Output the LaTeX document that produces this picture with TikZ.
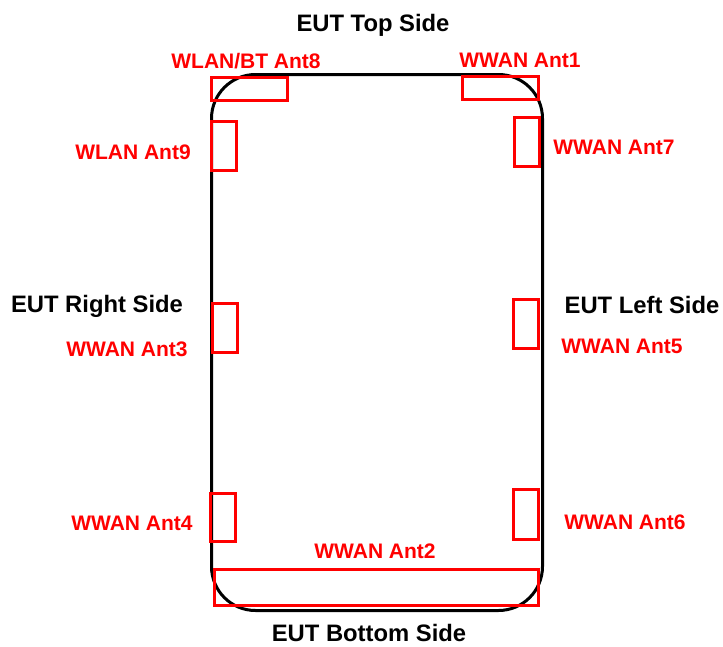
\documentclass[tikz,border=0pt]{standalone}
\usepackage{fontspec}
\setmainfont{Liberation Sans}
\usetikzlibrary{positioning}
\definecolor{AntRed}{RGB}{255,0,0}

\begin{document}
\begin{tikzpicture}[x=1pt,y=-1pt,
        eutbody/.style={draw=black,line width=3pt,rounded corners=44pt,
          minimum width=331pt,minimum height=536pt,inner sep=0pt},
        ant/.style={draw=AntRed,line width=3pt,inner sep=0pt},
        antlabel/.style={text=AntRed,font=\fontsize{21}{23}\selectfont\bfseries,inner sep=0pt},
        sidelabel/.style={text=black,font=\fontsize{23.8}{26}\selectfont\bfseries,inner sep=0pt}
      ]
        \useasboundingbox (0,0) rectangle (723,646);
        \node[eutbody] (eut) at (377,342.5) {};
        % antennas along the sides
        \node[ant,minimum width=76pt,minimum height=22.5pt] (ant8) at (249.5,89) {};
        \node[ant,minimum width=76pt,minimum height=23pt] (ant1) at (500.5,88) {};
        \node[ant,minimum width=25pt,minimum height=49pt] (ant9) at (224,146) {};
        \node[ant,minimum width=25pt,minimum height=49pt] (ant7) at (527,142) {};
        \node[ant,minimum width=25pt,minimum height=49pt] (ant3) at (224.5,328) {};
        \node[ant,minimum width=25pt,minimum height=49pt] (ant5) at (525.5,324) {};
        \node[ant,minimum width=25pt,minimum height=48pt] (ant4) at (223,517.5) {};
        \node[ant,minimum width=25pt,minimum height=50pt] (ant6) at (525.5,514.5) {};
        \node[ant,minimum width=324pt,minimum height=36pt] (ant2) at (376.5,587.5) {};
        % side names
        \node[sidelabel] (top) at (373,25) {EUT Top Side};
        \node[sidelabel] (bottom) at (369,633) {EUT Bottom Side};
        \node[sidelabel] (right) at (97,306) {EUT Right Side};
        \node[sidelabel] (left) at (642,305) {EUT Left Side};
        % antenna names
        \node[antlabel] (lab8) at (246,61) {WLAN/BT Ant8};
        \node[antlabel] (lab1) at (520,60) {WWAN Ant1};
        \node[antlabel] (lab9) at (133,152) {WLAN Ant9};
        \node[antlabel] (lab7) at (614,147) {WWAN Ant7};
        \node[antlabel] (lab3) at (127,349) {WWAN Ant3};
        \node[antlabel] (lab5) at (622,346) {WWAN Ant5};
        \node[antlabel] (lab4) at (132,523) {WWAN Ant4};
        \node[antlabel] (lab6) at (625,522) {WWAN Ant6};
        \node[antlabel] (lab2) at (375,551) {WWAN Ant2};
      \end{tikzpicture}
\end{document}
